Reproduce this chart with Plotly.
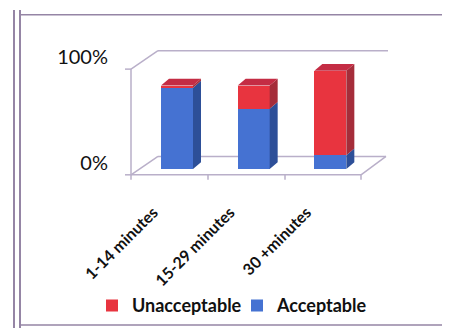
import plotly.graph_objects as go

categories = ["1-14 minutes", "15-29 minutes", "30 +minutes"]
acceptable = [0.77, 0.57, 0.13]
unacceptable = [0.02, 0.22, 0.80]
series_names = ["Acceptable", "Unacceptable"]
y_ticks = [0, 1]

W, H = 450, 328
L, R = 123, 353          # plot area x pixels
Y0, YTOP = 164, 48.5     # plot area y pixels (bottom, top)
YMAX = 1.06
PPU_Y = (Y0 - YTOP) / YMAX
PPU_X = (R - L) / 3.0


def px(x):
    return (x - L) / (R - L)


def py(y):
    return (Y0 - y) / (Y0 - YTOP)


blue, red = "#4572d2", "#e8343f"
blue_side, red_side = "#2d4f98", "#a52d3a"
blue_top, red_top = "#5a86dc", "#c42c44"

offset = 0.1
bw = 32 / PPU_X
dx = 8 / PPU_X
dy = 7 / PPU_Y

xs = [i + offset for i in range(len(categories))]

fig = go.Figure()
fig.add_bar(x=xs, y=acceptable, name=series_names[0], width=bw, legend="legend2",
            marker=dict(color=blue, line=dict(width=0)))
fig.add_bar(x=xs, y=unacceptable, name=series_names[1], width=bw, legend="legend",
            marker=dict(color=red, line=dict(width=0)))

# pseudo-3D side and top faces derived from the data
segs = []
for i, x in enumerate(xs):
    segs.append((x, 0, acceptable[i], "b"))
    segs.append((x, acceptable[i], acceptable[i] + unacceptable[i], "r"))

for key, side_col in [("b", blue_side), ("r", red_side)]:
    sx, sy = [], []
    for x, y0, y1, k in segs:
        if k != key:
            continue
        r = x + bw / 2
        sx += [r, r + dx, r + dx, r, r, None]
        sy += [y0, y0 + dy, y1 + dy, y1, y0, None]
    fig.add_scatter(x=sx, y=sy, mode="lines", fill="toself", fillcolor=side_col,
                    line=dict(width=0, color=side_col), showlegend=False, hoverinfo="skip")

tx, ty = [], []
for i, x in enumerate(xs):
    top = acceptable[i] + unacceptable[i]
    l, r = x - bw / 2, x + bw / 2
    tx += [l, l + dx, r + dx, r, l, None]
    ty += [top, top + dy, top + dy, top, top, None]
fig.add_scatter(x=tx, y=ty, mode="lines", fill="toself", fillcolor=red_top,
                line=dict(width=0, color=red_top), showlegend=False, hoverinfo="skip")

wall = "#b9afc9"
frame = "#9585a5"
shapes = []


def seg(x0, y0, x1, y1, color, width, layer="below"):
    shapes.append(dict(type="line", xref="paper", yref="paper",
                       x0=px(x0), y0=py(y0), x1=px(x1), y1=py(y1),
                       line=dict(color=color, width=width), layer=layer))


# 3D wall / floor outline
seg(150, 42, 380, 42, wall, 1.5)
seg(123, 61, 150, 42, wall, 1.5)
seg(123, 61, 123, 170, wall, 1.5)
seg(123, 170, 353, 170, wall, 1.5)
seg(150, 151, 378, 151, wall, 1.5)
seg(123, 170, 150, 151, wall, 1.5)
seg(353, 170, 378, 151, wall, 1.5)
seg(117, 61, 123, 61, wall, 1.5)
seg(117, 170, 123, 170, wall, 1.5)
for t in [123, 200, 277, 353]:
    seg(t, 170, t, 175, wall, 1.5)

# outer frame
seg(6, 0, 6, 328, frame, 2, "above")
seg(12, 0, 12, 328, frame, 2, "above")
seg(12, 5, 450, 5, frame, 1.5, "above")
seg(12, 325, 450, 325, frame, 1.5, "above")

legend_font = dict(family="Lato", size=18, color="#111111", weight="bold")
fig.update_layout(
    width=W, height=H,
    margin=dict(l=L, r=W - R, t=YTOP, b=H - Y0),
    barmode="stack",
    paper_bgcolor="white", plot_bgcolor="rgba(0,0,0,0)",
    shapes=shapes,
    showlegend=True,
    legend=dict(x=px(84), xanchor="left", y=py(305), yanchor="middle",
                font=legend_font, bgcolor="rgba(0,0,0,0)"),
    legend2=dict(x=px(229), xanchor="left", y=py(305), yanchor="middle",
                 font=legend_font, bgcolor="rgba(0,0,0,0)"),
    font=dict(family="Lato", color="#111111"),
)
fig.update_xaxes(range=[-0.5, 2.5], tickvals=list(range(len(categories))),
                 ticktext=categories, tickangle=-45, showgrid=False, zeroline=False,
                 showline=False, ticks="", ticklabelstandoff=30, ticklabelshift=-16,
                 tickfont=dict(family="Lato", size=16, weight="bold", color="#111111"))
fig.update_yaxes(range=[0, YMAX], tickvals=y_ticks, tickformat=".0%",
                 showgrid=False, zeroline=False, showline=False, ticks="",
                 ticklabelshift=-6, ticklabelstandoff=22,
                 tickfont=dict(family="Lato", size=20, color="#111111"))

fig.update_traces(selector=dict(type="bar"), hoverinfo="y+name")

fig.write_html("out.html")
